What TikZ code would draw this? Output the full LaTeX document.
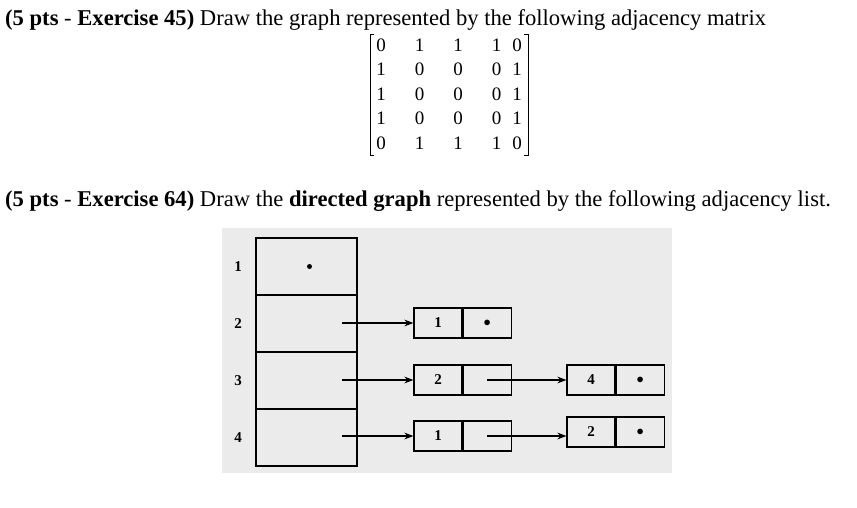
\documentclass[tikz,border=0pt]{standalone}
\usepackage{fontspec}
\setmainfont{Liberation Serif}
\usetikzlibrary{arrows.meta}
\begin{document}
\begin{tikzpicture}[x=1pt,y=-1pt,
  cell/.style={draw,line width=1.2pt,minimum width=48pt,minimum height=30pt,inner sep=0pt,font=\bfseries\fontsize{15}{15}\selectfont},
  big/.style={draw,line width=1.2pt,minimum width=101pt,minimum height=57pt,inner sep=0pt},
  lbl/.style={font=\bfseries\fontsize{15}{15}\selectfont},
  arr/.style={-{Stealth[length=9pt]},line width=1.3pt},
  txt/.style={anchor=west,inner sep=0pt,font=\fontsize{22.6}{22.6}\selectfont},
  mat/.style={font=\fontsize{19}{19}\selectfont,inner sep=0pt}]
\useasboundingbox (0,0) rectangle (857,507);
\node[txt] (t1) at (5,20) {\textbf{(5 pts} - \textbf{Exercise 45)} Draw the graph represented by the following adjacency matrix};
\node[txt] (t2) at (5,201) {\textbf{(5 pts} - \textbf{Exercise 64)} Draw the \textbf{directed graph} represented by the following adjacency list.};
% matrix
\foreach \r/\vals in {1/{0,1,1,1,0},2/{1,0,0,0,1},3/{1,0,0,0,1},4/{1,0,0,0,1},5/{0,1,1,1,0}}{
  \foreach \v [count=\c] in \vals {
    \pgfmathsetmacro{\xx}{\c==5 ? 517 : 381+38.5*(\c-1)}
    \node[mat] (m\r\c) at (\xx,{45+24.5*(\r-1)}) {\v};
  }
}
\draw[line width=0.9pt] (374,34) -- (370,34) -- (370,155) -- (374,155);
\draw[line width=0.9pt] (524,34) -- (528,34) -- (528,155) -- (524,155);
% photo background
\fill[black!8] (222,228) rectangle (672,473);
\node[big] (b1) at (306.5,266.5) {};
\node[big] (b2) at (306.5,323.5) {};
\node[big] (b3) at (306.5,380.5) {};
\node[big] (b4) at (306.5,437.5) {};
\fill (b1.center) ++(3,0) circle (2.5pt);
\node[lbl] (l1) at (238,267) {1};
\node[lbl] (l2) at (238,324) {2};
\node[lbl] (l3) at (238,381) {3};
\node[lbl] (l4) at (238,438) {4};
% row 2
\node[cell] (a1) at (438,323) {1};
\node[cell,anchor=west] (a2) at (a1.east) {$\bullet$};
% row 3
\node[cell] (c1) at (438,380) {2};
\node[cell,anchor=west] (c2) at (c1.east) {};
\node[cell] (c3) at (591,380) {4};
\node[cell,anchor=west] (c4) at (c3.east) {$\bullet$};
% row 4
\node[cell] (d1) at (438,436) {1};
\node[cell,anchor=west] (d2) at (d1.east) {};
\node[cell] (d3) at (591,432) {2};
\node[cell,anchor=west] (d4) at (d3.east) {$\bullet$};
% arrows
\coordinate (s2) at (342,323);
\coordinate (s3) at (342,380);
\coordinate (s4) at (342,436);
\draw[arr] (s2) -- (a1.west);
\draw[arr] (s3) -- (c1.west);
\draw[arr] (s4) -- (d1.west);
\draw[arr] (c2.center) -- (c3.west);
\draw[arr] (d2.center) -- (d3.west|-d2.center);
\end{tikzpicture}
\end{document}
